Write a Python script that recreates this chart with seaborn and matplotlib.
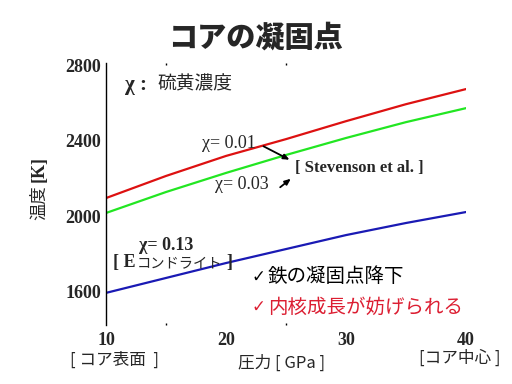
import matplotlib
matplotlib.use("Agg")
import matplotlib.pyplot as plt
import seaborn as sns
import pandas as pd

# ---- data ----
pressure = [10, 15, 20, 25, 30, 35, 40]          # GPa
temp_chi001 = [2096, 2213, 2319, 2408, 2503, 2593, 2673]
temp_chi003 = [2017, 2128, 2229, 2324, 2414, 2498, 2572]
temp_chi013 = [1594, 1673, 1752, 1826, 1900, 1964, 2022]
series_names = ["0.01", "0.03", "0.13"]
series_colors = ["#dd1111", "#22e622", "#1a1ab4"]
xticks = [10, 20, 30, 40]
yticks = [1600, 2000, 2400, 2800]

rows = []
for name, vals in zip(series_names, [temp_chi001, temp_chi003, temp_chi013]):
    for p, t in zip(pressure, vals):
        rows.append({"pressure": p, "temp": t, "chi": name})
df = pd.DataFrame(rows)

sns.set_style("white")
plt.rcParams["font.family"] = ["Noto Sans CJK JP", "DejaVu Sans"]

SERIF = ["Liberation Serif", "Noto Sans CJK JP", "DejaVu Serif"]
CJK = ["Noto Sans CJK JP", "DejaVu Sans"]

fig = plt.figure(figsize=(5.12, 3.84), dpi=100)
ax = fig.add_axes([106 / 512, 1 - 325 / 384, 360 / 512, 262 / 384])

sns.lineplot(data=df, x="pressure", y="temp", hue="chi",
             palette=dict(zip(series_names, series_colors)),
             linewidth=1.6, ax=ax, legend=False)

ax.set_xlim(10, 40)
ax.set_ylim(1424, 2811)
for s in ["top", "right", "bottom"]:
    ax.spines[s].set_visible(False)
ax.spines["left"].set_color("black")
ax.spines["left"].set_linewidth(1.0)
ax.set_xlabel("")
ax.set_ylabel("")

ax.set_xticks(xticks)
ax.set_xticklabels([str(v) for v in xticks], family=SERIF, fontweight="bold", fontsize=13)
ax.set_yticks(yticks)
ax.set_yticklabels([str(v) for v in yticks], family=SERIF, fontweight="bold", fontsize=13)
ax.tick_params(axis="x", length=0, pad=5)
ax.tick_params(axis="y", length=3, width=1, direction="out", pad=0.5, color="black")
ax.set_xticks([15, 20, 25, 30], minor=True)
ax.tick_params(axis="x", which="minor", length=1.5, width=1, direction="in",
               top=True, bottom=True, color="black")

# title
fig.text(255 / 512, 1 - 38 / 384, "コアの凝固点", ha="center", va="center",
         fontsize=21, fontweight="heavy", family=CJK)

# chi legend
fig.text(125 / 512, 1 - 85 / 384, "χ :", ha="left", va="center",
         fontsize=15, fontweight="bold", family=SERIF)
fig.text(157 / 512, 1 - 84 / 384, "硫黄濃度", ha="left", va="center",
         fontsize=13.5, family=CJK)

# y label
fig.text(39 / 512, 1 - 203 / 384, "温度", rotation=90, ha="center", va="center",
         fontsize=12.5, family=CJK)
fig.text(39 / 512, 1 - 169 / 384, "[K]", rotation=90, ha="center", va="center",
         fontsize=13, fontweight="bold", family=SERIF)

# x labels
fig.text(115 / 512, 1 - 360 / 384, "[ コア表面  ]", ha="center", va="center",
         fontsize=12, family=CJK)
fig.text(282 / 512, 1 - 363 / 384, "圧力 [ GPa ]", ha="center", va="center",
         fontsize=12, family=CJK)
fig.text(460 / 512, 1 - 358 / 384, "[コア中心 ]", ha="center", va="center",
         fontsize=12, family=CJK)

# annotations
fig.text(202 / 512, 1 - 144 / 384, "χ= 0.01", ha="left", va="center",
         fontsize=13, family=SERIF)
fig.text(215 / 512, 1 - 185 / 384, "χ= 0.03", ha="left", va="center",
         fontsize=13, family=SERIF)
fig.text(295 / 512, 1 - 168 / 384, "[ Stevenson et al. ]", ha="left", va="center",
         fontsize=12, fontweight="bold", family=SERIF)
fig.text(139 / 512, 1 - 245 / 384, "χ= 0.13", ha="left", va="center",
         fontsize=13, fontweight="semibold", family=SERIF)
fig.text(113 / 512, 1 - 263 / 384, "[ E", ha="left", va="center",
         fontsize=13, fontweight="bold", family=SERIF)
fig.text(137 / 512, 1 - 263 / 384, "コンドライト", ha="left", va="center",
         fontsize=10.3, family=CJK)
fig.text(226 / 512, 1 - 263 / 384, "]", ha="left", va="center",
         fontsize=13, fontweight="bold", family=SERIF)

arrow_kw = dict(arrowstyle="-|>,head_length=0.35,head_width=0.15", color="black", lw=1.3)
ax.annotate("", xy=(292 / 512, 1 - 161 / 384), xytext=(261 / 512, 1 - 145 / 384),
            xycoords="figure fraction", textcoords="figure fraction", arrowprops=arrow_kw)
ax.annotate("", xy=(293 / 512, 1 - 177 / 384), xytext=(278 / 512, 1 - 189 / 384),
            xycoords="figure fraction", textcoords="figure fraction", arrowprops=arrow_kw)

fig.text(251 / 512, 1 - 277 / 384, "✓", ha="left", va="center",
         fontsize=12, family=["DejaVu Sans"], color="black")
fig.text(268 / 512, 1 - 277 / 384, "鉄の凝固点降下", ha="left", va="center",
         fontsize=14, family=CJK, color="black")
fig.text(251 / 512, 1 - 307 / 384, "✓", ha="left", va="center",
         fontsize=12, family=["DejaVu Sans"], color="#dc1e32")
fig.text(268 / 512, 1 - 307 / 384, "内核成長が妨げられる", ha="left", va="center",
         fontsize=14, family=CJK, color="#dc1e32")

fig.savefig("out.png", dpi=100)
